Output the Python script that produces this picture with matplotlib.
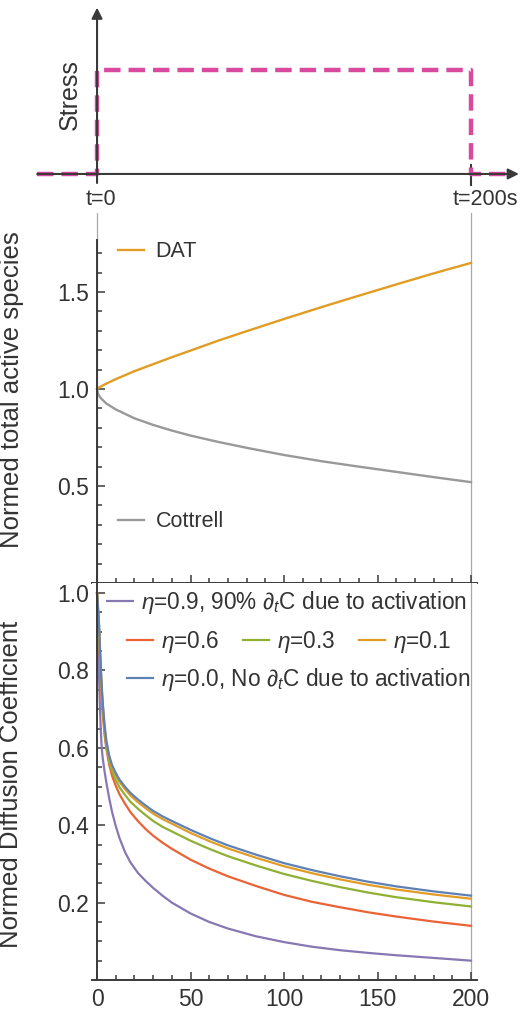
import matplotlib
matplotlib.use("Agg")
import numpy as np
import matplotlib.pyplot as plt
from matplotlib.ticker import FixedLocator

plt.rcParams['font.family'] = ['Liberation Sans', 'DejaVu Sans']
plt.rcParams['mathtext.fontset'] = 'custom'
plt.rcParams['mathtext.rm'] = 'Liberation Sans'
plt.rcParams['mathtext.it'] = 'Liberation Sans:italic'

# stress protocol (top schematic)
stress_t = [-32, 0, 0, 200, 200, 221]
stress_level = [0, 0, 1, 1, 0, 0]

# normed total active species
t_dat = [0, 1, 2, 5, 10, 20, 30, 40, 50, 65, 80, 100, 120, 140, 160, 180, 200]
dat = [1.0, 1.007, 1.013, 1.028, 1.051, 1.092, 1.128, 1.164, 1.198, 1.25, 1.298, 1.361, 1.422, 1.481, 1.539, 1.596, 1.65]
t_cot = [0, 0.5, 1, 2, 5, 10, 20, 30, 40, 50, 65, 80, 100, 120, 140, 160, 180, 200]
cot = [1.0, 0.977, 0.967, 0.953, 0.925, 0.895, 0.849, 0.815, 0.786, 0.76, 0.727, 0.697, 0.66, 0.628, 0.6, 0.573, 0.546, 0.52]

# normed diffusion coefficient
t_diff = [0, 0.5, 1, 1.5, 2, 2.5, 3, 4, 5, 6.5, 8, 10, 12, 15, 18, 22, 26, 30, 35, 40,
          50, 60, 70, 85, 100, 115, 130, 145, 160, 180, 200]
d_eta00 = [1.0, 0.965, 0.925, 0.865, 0.81, 0.76, 0.72, 0.66, 0.618, 0.58, 0.556, 0.535, 0.518, 0.499, 0.483, 0.466,
           0.451, 0.437, 0.423, 0.411, 0.388, 0.367, 0.348, 0.324, 0.302, 0.284, 0.268, 0.254, 0.242, 0.229, 0.218]
d_eta01 = [1.0, 0.963, 0.922, 0.861, 0.805, 0.755, 0.715, 0.654, 0.612, 0.574, 0.55, 0.529, 0.512, 0.493, 0.476, 0.459,
           0.444, 0.43, 0.416, 0.404, 0.38, 0.359, 0.34, 0.316, 0.294, 0.276, 0.26, 0.246, 0.234, 0.221, 0.210]
d_eta03 = [1.0, 0.962, 0.92, 0.857, 0.80, 0.749, 0.707, 0.646, 0.603, 0.564, 0.539, 0.517, 0.498, 0.478, 0.46, 0.442,
           0.426, 0.411, 0.396, 0.384, 0.36, 0.339, 0.32, 0.296, 0.274, 0.256, 0.24, 0.226, 0.214, 0.201, 0.19]
d_eta06 = [1.0, 0.955, 0.905, 0.84, 0.78, 0.73, 0.69, 0.635, 0.597, 0.557, 0.528, 0.502, 0.48, 0.455, 0.433, 0.41,
           0.39, 0.373, 0.355, 0.339, 0.311, 0.288, 0.268, 0.243, 0.22, 0.202, 0.188, 0.175, 0.164, 0.151, 0.14]
d_eta09 = [1.0, 0.90, 0.80, 0.71, 0.645, 0.60, 0.575, 0.54, 0.51, 0.47, 0.435, 0.398, 0.367, 0.33, 0.303, 0.276,
           0.256, 0.238, 0.218, 0.2, 0.172, 0.15, 0.133, 0.113, 0.098, 0.086, 0.077, 0.07, 0.064, 0.057, 0.05]

labels_diff = [r'$\eta$=0.9, 90% $\partial_t$C due to activation',
               r'$\eta$=0.6', r'$\eta$=0.3', r'$\eta$=0.1',
               r'$\eta$=0.0, No $\partial_t$C due to activation']

AX = '#3a3a3a'
TXT = '#333333'
GRID = '#a8a8a8'
PINK = '#d94a9f'
BLUE, ORANGE, GREEN, RED, PURPLE = '#5E81B5', '#E19C24', '#8FB032', '#EB6235', '#8778B3'
GRAY = '#999999'

fig = plt.figure(figsize=(5.2, 10.14), dpi=100)

# ---- top: stress schematic ----
ax0 = fig.add_axes([0, 0.8028, 1, 0.1972])
ax0.set_xlim(-51.9, 226.2)
ax0.set_ylim(-0.25, 1.673)
ax0.axis('off')
ax0.annotate('', xy=(225.6, 0), xytext=(-32, 0),
             arrowprops=dict(arrowstyle='-|>', color=AX, lw=1.5, mutation_scale=16, shrinkA=0, shrinkB=0))
ax0.annotate('', xy=(0, 1.6), xytext=(0, -0.087),
             arrowprops=dict(arrowstyle='-|>', color=AX, lw=1.5, mutation_scale=16, shrinkA=0, shrinkB=0))
ax0.plot([200, 200], [-0.106, 0.087], color=AX, lw=1.5)
ax0.plot(stress_t, stress_level, color=PINK, lw=3.2, dashes=(3.7, 1.8), dash_capstyle='butt')
ax0.text(-14.4, 0.76, 'Stress', rotation=90, ha='center', va='center', fontsize=18, color=TXT)
ax0.text(2, -0.25, 't=0', ha='center', va='center', fontsize=15.5, color=TXT)
ax0.text(190.4, -0.25, 't=200s', ha='left', va='center', fontsize=15.5, color=TXT)


def style_axes(ax):
    for s in ['top', 'right']:
        ax.spines[s].set_visible(False)
    ax.spines['left'].set_position(('data', 0))
    for s in ['left', 'bottom']:
        ax.spines[s].set_color(AX)
        ax.spines[s].set_linewidth(1.4)
    ax.set_xlim(-2.7, 203.2)
    ax.xaxis.set_major_locator(FixedLocator([0, 50, 100, 150, 200]))
    ax.xaxis.set_minor_locator(FixedLocator(np.arange(10, 200, 10)))
    ax.tick_params(which='both', direction='in', color=AX, labelcolor=TXT, labelsize=16.5, width=1.1)
    ax.tick_params(which='major', length=6, pad=6)
    ax.tick_params(which='minor', length=3.5)
    ax.axvline(200, color=GRID, lw=0.9, zorder=0)


# ---- middle: normed total active species ----
ax1 = fig.add_axes([0.1769, 0.4250, 0.7404, 0.3649])
style_axes(ax1)
ax1.set_ylim(0, 1.907)
ax1.spines['left'].set_bounds(0, 1.77)
ax1.axvline(0, color=GRID, lw=0.9, zorder=0)
ax1.yaxis.set_major_locator(FixedLocator([0.5, 1.0, 1.5]))
ax1.yaxis.set_minor_locator(FixedLocator([0.1, 0.2, 0.3, 0.4, 0.6, 0.7, 0.8, 0.9, 1.1, 1.2, 1.3, 1.4, 1.6, 1.7]))
ax1.set_yticklabels(['0.5', '1.0', '1.5'])
ax1.tick_params(axis='x', labelbottom=False)
l_dat, = ax1.plot(t_dat, dat, color=ORANGE, lw=1.7)
l_cot, = ax1.plot(t_cot, cot, color=GRAY, lw=1.7)
ax1.set_ylabel('Normed total active species', fontsize=18.5, color=TXT)
ax1.yaxis.set_label_coords(-0.177, 0.524)
leg_kw = dict(loc='center left', frameon=False, fontsize=15.5, handlelength=1.2, handletextpad=0.55,
              borderpad=0, borderaxespad=0, labelcolor=TXT)
lg = ax1.legend([l_dat], ['DAT'], bbox_to_anchor=(0.0675, 0.895), **leg_kw)
ax1.add_artist(lg)
ax1.legend([l_cot], ['Cottrell'], bbox_to_anchor=(0.0675, 0.165), **leg_kw)

# ---- bottom: normed diffusion coefficient ----
ax2 = fig.add_axes([0.1769, 0.03353, 0.7404, 0.3915])
style_axes(ax2)
ax2.set_ylim(0, 1.026)
ax2.yaxis.set_major_locator(FixedLocator([0.2, 0.4, 0.6, 0.8, 1.0]))
ax2.yaxis.set_minor_locator(FixedLocator(np.arange(0.05, 1.0, 0.05)))
ax2.set_yticklabels(['0.2', '0.4', '0.6', '0.8', '1.0'])
l09, = ax2.plot(t_diff, d_eta09, color=PURPLE, lw=1.6)
l06, = ax2.plot(t_diff, d_eta06, color=RED, lw=1.6)
l03, = ax2.plot(t_diff, d_eta03, color=GREEN, lw=1.6)
l01, = ax2.plot(t_diff, d_eta01, color=ORANGE, lw=1.6)
l00, = ax2.plot(t_diff, d_eta00, color=BLUE, lw=1.6)
ax2.set_ylabel('Normed Diffusion Coefficient', fontsize=18.5, color=TXT)
ax2.yaxis.set_label_coords(-0.179, 0.494)
leg_kw2 = dict(loc='center left', frameon=False, fontsize=16.3, handlelength=1.15, handletextpad=0.35,
               borderpad=0, borderaxespad=0, labelcolor=TXT)
lg1 = ax2.legend([l09], [labels_diff[0]], bbox_to_anchor=(0.039, 0.950), **leg_kw2)
ax2.add_artist(lg1)
lg2 = ax2.legend([l06, l03, l01], labels_diff[1:4], ncol=3, columnspacing=1.05,
                 bbox_to_anchor=(0.091, 0.852), **leg_kw2)
ax2.add_artist(lg2)
ax2.legend([l00], [labels_diff[4]], bbox_to_anchor=(0.091, 0.756), **leg_kw2)

fig.savefig('out.png', dpi=100)
